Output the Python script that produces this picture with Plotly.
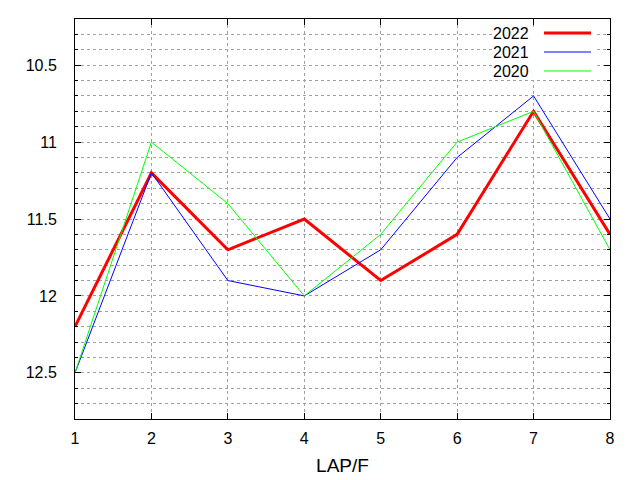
import plotly.graph_objects as go

laps = [1, 2, 3, 4, 5, 6, 7, 8]
y2022 = [12.2, 11.2, 11.7, 11.5, 11.9, 11.6, 10.8, 11.6]
y2021 = [12.5, 11.2, 11.9, 12.0, 11.7, 11.1, 10.7, 11.5]
y2020 = [12.5, 11.0, 11.4, 12.0, 11.6, 11.0, 10.8, 11.7]
names = ["2022", "2021", "2020"]
colors = ["#ff0000", "#0000ff", "#00ff00"]
widths = [3, 1, 1]
series = [y2022, y2021, y2020]
ytickvals = [10.5, 11, 11.5, 12, 12.5]
yticktext = ["10.5", "11", "11.5", "12", "12.5"]

OFF = 8  # page body margin
W, H = 640 - OFF, 480 - OFF
L, R, T, B = 75 - OFF, 30, 19 - OFF, 61
pw, ph = W - L - R, H - T - B


def px_x(p):
    return (p - 75) / pw


def px_y(p):
    return (480 - B - p) / ph


fig = go.Figure()
for name, ys, c, w in zip(names, series, colors, widths):
    fig.add_trace(go.Scatter(x=laps, y=ys, mode="lines", name=name,
                             line=dict(color=c, width=w), showlegend=False))

# gnuplot-style opaque key (text left, line sample right)
shapes = [dict(type="rect", xref="paper", yref="paper", layer="above",
               x0=px_x(493), x1=px_x(597), y0=px_y(80), y1=px_y(27),
               fillcolor="white", line=dict(width=0))]
annotations = []
for i, (name, c, w) in enumerate(zip(names, colors, widths)):
    py = 33 + i * 19
    yp = px_y(py)
    annotations.append(dict(xref="paper", yref="paper", x=px_x(531), y=yp,
                            text=name, showarrow=False, xanchor="right", yanchor="middle",
                            font=dict(family="Liberation Sans", size=16, color="black")))
    shapes.append(dict(type="line", xref="paper", yref="paper", layer="above",
                       x0=px_x(544), x1=px_x(591), y0=yp, y1=yp,
                       line=dict(color=c, width=w)))

grid = dict(gridcolor="#a0a0a0", gridwidth=1, griddash="3px,3px")
fig.update_layout(
    width=W, height=H,
    margin=dict(l=L, r=R, t=T, b=B, autoexpand=False),
    plot_bgcolor="white", paper_bgcolor="white",
    font=dict(family="Liberation Sans", size=16, color="black"),
    shapes=shapes, annotations=annotations,
    xaxis=dict(range=[1, 8], tickvals=laps, showgrid=True, **grid, automargin=False,
               showline=True, linecolor="black", linewidth=1, mirror="ticks",
               ticks="inside", ticklen=6, tickcolor="black", zeroline=False,
               title=dict(text="LAP/F", standoff=12), tickfont=dict(size=16),
               ticklabelstandoff=5),
    yaxis=dict(range=[12.8, 10.2], tickvals=ytickvals, ticktext=yticktext,
               showgrid=True, **grid, automargin=False,
               minor=dict(dtick=0.1, tick0=10.0, showgrid=True, gridcolor="#a0a0a0",
                          griddash="3px,3px", ticks="inside", ticklen=3, tickcolor="black"),
               showline=True, linecolor="black", linewidth=1, mirror="ticks",
               ticks="inside", ticklen=6, tickcolor="black", zeroline=False,
               tickfont=dict(size=16), ticklabelstandoff=14),
)
fig.write_html("out.html")
